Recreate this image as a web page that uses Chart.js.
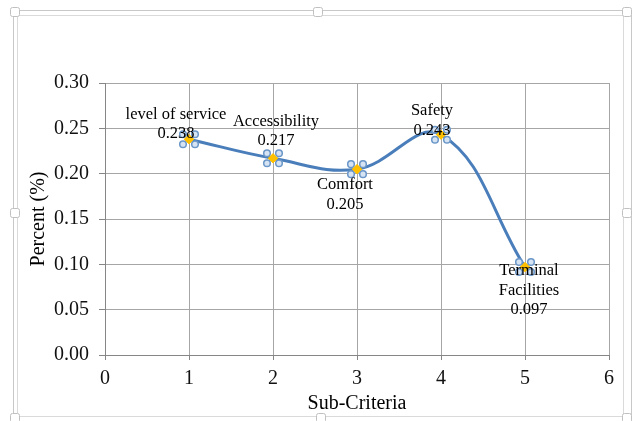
<!DOCTYPE html>
<html>
<head>
<meta charset="utf-8">
<script src="https://cdn.jsdelivr.net/npm/chart.js@4.4.1/dist/chart.umd.min.js"></script>
<style>
  html, body { margin: 0; padding: 0; background: #ffffff; }
  canvas { display: block; }
</style>
</head>
<body>
<canvas id="chart" width="635" height="421"></canvas>
<script>
// Sub-criteria index and their weights
const subCriteria = [1, 2, 3, 4, 5];
const weights = [0.238, 0.217, 0.205, 0.243, 0.097];
const criteriaNames = [
  ['level of service'],
  ['Accessibility'],
  ['Comfort'],
  ['Safety'],
  ['Terminal', 'Facilities']
];
const xAxisRange = [0, 6];
const yAxisRange = [0, 0.30];
const yStep = 0.05;

const SERIF = "'Liberation Serif', 'Times New Roman', serif";

// Light double frame with small handles around the whole chart
const framePlugin = {
  id: 'frame',
  beforeDraw(chart) {
    const ctx = chart.ctx;
    ctx.save();
    ctx.fillStyle = '#ffffff';
    ctx.fillRect(0, 0, chart.width, chart.height);
    ctx.lineWidth = 1;
    ctx.strokeStyle = '#c8c8c8';
    ctx.strokeRect(13.5, 10.5, 618, 420);
    ctx.strokeStyle = '#dadada';
    ctx.strokeRect(17.5, 15.5, 606, 401);
    const handles = [
      [15, 12], [318, 12], [627, 12],
      [15, 213], [627, 213],
      [15, 418], [321, 418], [627, 418]
    ];
    handles.forEach(([x, y]) => {
      ctx.beginPath();
      ctx.roundRect(x - 4.5, y - 4.5, 9, 9, 2);
      ctx.fillStyle = '#ffffff';
      ctx.fill();
      ctx.strokeStyle = '#c0c0c0';
      ctx.stroke();
    });
    ctx.restore();
  }
};

// Selection rings around each data point, then the marker on top
const markerPlugin = {
  id: 'markers',
  afterDatasetsDraw(chart) {
    const ctx = chart.ctx;
    const meta = chart.getDatasetMeta(0);
    ctx.save();
    meta.data.forEach((pt) => {
      [[-6, -5], [6, -5], [-6, 5], [6, 5]].forEach(([dx, dy]) => {
        ctx.beginPath();
        ctx.arc(pt.x + dx, pt.y + dy, 3.3, 0, Math.PI * 2);
        ctx.fillStyle = '#d5e3f3';
        ctx.fill();
        ctx.lineWidth = 1.5;
        ctx.strokeStyle = '#6a96c8';
        ctx.stroke();
      });
    });
    ctx.restore();
    meta.data.forEach((pt) => pt.draw(ctx, chart.chartArea));
  }
};

// Name and value text next to each point
const labelPlugin = {
  id: 'pointLabels',
  afterDatasetsDraw(chart, args, opts) {
    const ctx = chart.ctx;
    const meta = chart.getDatasetMeta(0);
    const ds = chart.data.datasets[0];
    ctx.save();
    ctx.font = opts.font;
    ctx.fillStyle = opts.color;
    ctx.textAlign = 'center';
    ctx.textBaseline = 'middle';
    meta.data.forEach((pt, i) => {
      const off = opts.offsets[i];
      const lines = criteriaNames[i].concat([ds.data[i].y.toFixed(3)]);
      lines.forEach((t, k) => {
        ctx.fillText(t, pt.x + off[0], pt.y + off[1] + k * opts.lineHeight);
      });
    });
    ctx.restore();
  }
};

new Chart(document.getElementById('chart'), {
  type: 'scatter',
  data: {
    datasets: [{
      data: subCriteria.map((x, i) => ({ x: x, y: weights[i] })),
      showLine: true,
      borderColor: '#4a7ebb',
      borderWidth: 3,
      tension: 0.4,
      pointStyle: 'rectRot',
      pointRadius: 4.5,
      pointBackgroundColor: '#ffc000',
      pointBorderColor: '#ffc000',
      pointBorderWidth: 1
    }]
  },
  options: {
    responsive: false,
    animation: false,
    events: [],
    layout: { padding: { left: 20, right: 26, top: 83, bottom: 5 } },
    plugins: {
      legend: { display: false },
      tooltip: { enabled: false },
      pointLabels: {
        font: '16.5px ' + SERIF,
        color: '#000000',
        lineHeight: 19.5,
        offsets: [[-13, -25], [3, -37], [-12, 16], [-9, -24], [4, 4]]
      }
    },
    scales: {
      x: {
        type: 'linear',
        min: xAxisRange[0],
        max: xAxisRange[1],
        ticks: {
          stepSize: 1,
          color: '#111111',
          font: { family: SERIF, size: 20 },
          padding: 7,
          maxRotation: 0
        },
        grid: { color: '#a6a6a6', lineWidth: 1, tickLength: 5, tickColor: '#868686' },
        border: { color: '#868686', width: 1 },
        title: {
          display: true,
          text: 'Sub-Criteria',
          color: '#000000',
          font: { family: SERIF, size: 20 },
          padding: { top: 0, bottom: 0 }
        },
        afterFit(scale) { scale.height = 61; }
      },
      y: {
        type: 'linear',
        min: yAxisRange[0],
        max: yAxisRange[1],
        ticks: {
          stepSize: yStep,
          color: '#111111',
          font: { family: SERIF, size: 20 },
          padding: 10,
          callback: (v) => Number(v).toFixed(2)
        },
        grid: { color: '#a6a6a6', lineWidth: 1, tickLength: 6, tickColor: '#868686' },
        border: { color: '#868686', width: 1 },
        title: {
          display: true,
          text: 'Percent (%)',
          color: '#000000',
          font: { family: SERIF, size: 20 },
          padding: { top: 6.5, bottom: 0 }
        },
        afterFit(scale) { scale.width = 85; }
      }
    }
  },
  plugins: [framePlugin, markerPlugin, labelPlugin]
});
</script>
</body>
</html>
